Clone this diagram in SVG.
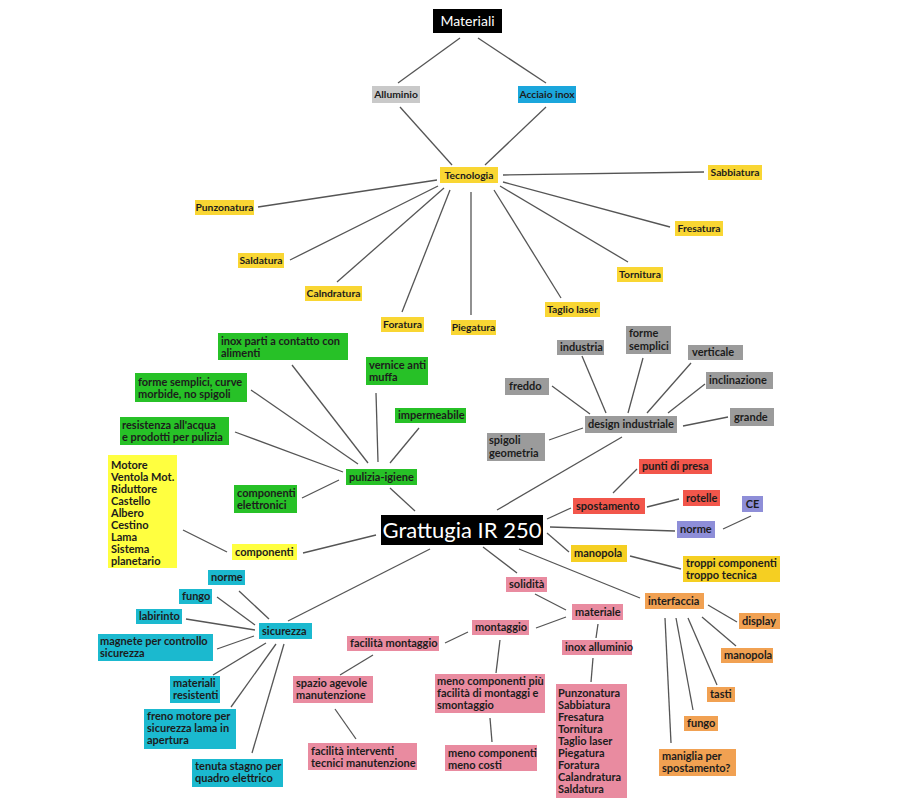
<svg xmlns="http://www.w3.org/2000/svg" width="900" height="810" viewBox="0 0 900 810">
<style>
text{font-family:"Lato","Liberation Sans",sans-serif;font-size:10.3px;font-weight:700;fill:#1c1c1c}
.m{font-size:11px}
.c{text-anchor:middle}
.blk{fill:#000}
.wt{fill:#fff;font-weight:400}
.gl{fill:#c9c9c9}
.bl{fill:#1ba6dc}
.ty{fill:#f9d633}
.gr{fill:#27c127}
.gy{fill:#9b9b9b}
.yy{fill:#ffff40}
.gd{fill:#f5cf22}
.rd{fill:#f2564b}
.pu{fill:#8e8ed8}
.cy{fill:#1bb9cf}
.pk{fill:#e98ba0}
.or{fill:#f1a152}
#connectors line{stroke:#555;stroke-width:1.3}
</style>
<rect width="900" height="810" fill="#fff"/>
<g id="connectors">
<line x1="460" y1="38" x2="398" y2="83"/>
<line x1="478" y1="38" x2="546" y2="83"/>
<line x1="400" y1="107" x2="452" y2="165"/>
<line x1="546" y1="107" x2="485" y2="165"/>
<line x1="503" y1="175" x2="704" y2="172"/>
<line x1="437" y1="180" x2="258" y2="207"/>
<line x1="503" y1="182" x2="670" y2="227"/>
<line x1="438" y1="186" x2="290" y2="260"/>
<line x1="500" y1="186" x2="628" y2="262"/>
<line x1="444" y1="188" x2="337" y2="282"/>
<line x1="494" y1="190" x2="561" y2="298"/>
<line x1="450" y1="190" x2="402" y2="312"/>
<line x1="471" y1="192" x2="471" y2="315"/>
<line x1="292" y1="365" x2="368" y2="463"/>
<line x1="251" y1="390" x2="358" y2="464"/>
<line x1="235" y1="432" x2="343" y2="472"/>
<line x1="376" y1="393" x2="378" y2="462"/>
<line x1="419" y1="428" x2="390" y2="463"/>
<line x1="302" y1="498" x2="339" y2="480"/>
<line x1="390" y1="488" x2="415" y2="511"/>
<line x1="552" y1="386" x2="590" y2="414"/>
<line x1="582" y1="356" x2="606" y2="413"/>
<line x1="643" y1="358" x2="628" y2="413"/>
<line x1="691" y1="363" x2="647" y2="413"/>
<line x1="705" y1="384" x2="668" y2="413"/>
<line x1="728" y1="417" x2="683" y2="426"/>
<line x1="549" y1="440" x2="583" y2="428"/>
<line x1="622" y1="437" x2="497" y2="510"/>
<line x1="547" y1="519" x2="571" y2="508"/>
<line x1="613" y1="493" x2="637" y2="469"/>
<line x1="647" y1="507" x2="679" y2="499"/>
<line x1="550" y1="527" x2="675" y2="531"/>
<line x1="723" y1="529" x2="751" y2="516"/>
<line x1="547" y1="533" x2="569" y2="552"/>
<line x1="630" y1="556" x2="681" y2="569"/>
<line x1="483" y1="547" x2="517" y2="573"/>
<line x1="519" y1="549" x2="640" y2="598"/>
<line x1="183" y1="530" x2="227" y2="552"/>
<line x1="303" y1="553" x2="376" y2="535"/>
<line x1="430" y1="549" x2="288" y2="621"/>
<line x1="239" y1="591" x2="269" y2="619"/>
<line x1="217" y1="597" x2="255" y2="625"/>
<line x1="186" y1="619" x2="255" y2="630"/>
<line x1="217" y1="649" x2="254" y2="636"/>
<line x1="213" y1="675" x2="266" y2="643"/>
<line x1="231" y1="707" x2="276" y2="644"/>
<line x1="252" y1="753" x2="284" y2="644"/>
<line x1="535" y1="594" x2="566" y2="610"/>
<line x1="566" y1="617" x2="536" y2="628"/>
<line x1="468" y1="632" x2="445" y2="643"/>
<line x1="598" y1="624" x2="596" y2="638"/>
<line x1="593" y1="658" x2="591" y2="682"/>
<line x1="500" y1="640" x2="496" y2="673"/>
<line x1="373" y1="655" x2="340" y2="675"/>
<line x1="335" y1="709" x2="356" y2="739"/>
<line x1="490" y1="718" x2="492" y2="742"/>
<line x1="708" y1="605" x2="737" y2="622"/>
<line x1="702" y1="617" x2="736" y2="646"/>
<line x1="688" y1="618" x2="717" y2="685"/>
<line x1="676" y1="618" x2="693" y2="710"/>
<line x1="665" y1="618" x2="671" y2="743"/>
</g>
<g id="n-materiali"><rect class="blk" x="433" y="9" width="69" height="24"/><text class="c wt" x="467.5" y="26" style="font-size:14px">Materiali</text></g>
<g id="n-alluminio"><rect class="gl" x="372" y="86" width="48" height="17"/><text class="c" x="396" y="98">Alluminio</text></g>
<g id="n-acciaio"><rect class="bl" x="518" y="86" width="58" height="17"/><text class="c" x="547" y="98">Acciaio inox</text></g>
<g id="n-tecnologia"><rect class="ty" x="440" y="167" width="58" height="16"/><text class="c" x="469" y="179">Tecnologia</text></g>
<g id="n-sabbiatura"><rect class="ty" x="708" y="165" width="54" height="15"/><text class="c" x="735" y="176">Sabbiatura</text></g>
<g id="n-punzonatura"><rect class="ty" x="195" y="200" width="59" height="15"/><text class="c" x="224.5" y="211">Punzonatura</text></g>
<g id="n-fresatura"><rect class="ty" x="675" y="221" width="48" height="15"/><text class="c" x="699" y="232">Fresatura</text></g>
<g id="n-saldatura"><rect class="ty" x="238" y="253" width="46" height="15"/><text class="c" x="261" y="264">Saldatura</text></g>
<g id="n-tornitura"><rect class="ty" x="617" y="267" width="46" height="15"/><text class="c" x="640" y="278">Tornitura</text></g>
<g id="n-calndratura"><rect class="ty" x="305" y="286" width="57" height="15"/><text class="c" x="333.5" y="297">Calndratura</text></g>
<g id="n-taglio"><rect class="ty" x="545" y="302" width="55" height="15"/><text class="c" x="572.5" y="313">Taglio laser</text></g>
<g id="n-foratura"><rect class="ty" x="381" y="317" width="43" height="15"/><text class="c" x="402.5" y="328">Foratura</text></g>
<g id="n-piegatura"><rect class="ty" x="451" y="320" width="45" height="15"/><text class="c" x="473.5" y="331">Piegatura</text></g>
<g id="n-inox-parti"><rect class="gr" x="218" y="333" width="130" height="27"/><text class="m" x="221" y="345">inox parti a contatto con</text><text class="m" x="221" y="357">alimenti</text></g>
<g id="n-vernice"><rect class="gr" x="366" y="357" width="62" height="28"/><text class="m" x="369" y="369">vernice anti</text><text class="m" x="369" y="381">muffa</text></g>
<g id="n-forme-curve"><rect class="gr" x="135" y="373" width="112" height="29"/><text class="m" x="138" y="386">forme semplici, curve</text><text class="m" x="138" y="398">morbide, no spigoli</text></g>
<g id="n-impermeabile"><rect class="gr" x="395" y="408" width="71" height="15"/><text class="m" x="398" y="419">impermeabile</text></g>
<g id="n-resistenza"><rect class="gr" x="120" y="417" width="109" height="28"/><text class="m" x="122" y="429">resistenza all'acqua</text><text class="m" x="122" y="441">e prodotti per pulizia</text></g>
<g id="n-pulizia"><rect class="gr" x="346" y="469" width="71" height="16"/><text class="m" x="349" y="481">pulizia-igiene</text></g>
<g id="n-comp-elettr"><rect class="gr" x="234" y="485" width="63" height="28"/><text class="m" x="237" y="497">componenti</text><text class="m" x="237" y="509">elettronici</text></g>
<g id="n-industria"><rect class="gy" x="557" y="340" width="47" height="15"/><text class="m" x="560" y="351">industria</text></g>
<g id="n-forme-semplici"><rect class="gy" x="626" y="326" width="45" height="28"/><text class="m" x="629" y="337">forme</text><text class="m" x="629" y="350">semplici</text></g>
<g id="n-verticale"><rect class="gy" x="688" y="345" width="55" height="15"/><text class="m" x="692" y="356">verticale</text></g>
<g id="n-inclinazione"><rect class="gy" x="706" y="372" width="67" height="17"/><text class="m" x="709" y="384">inclinazione</text></g>
<g id="n-freddo"><rect class="gy" x="505" y="378" width="44" height="17"/><text class="m" x="509" y="390">freddo</text></g>
<g id="n-design"><rect class="gy" x="585" y="416" width="92" height="17"/><text class="m" x="588" y="428">design industriale</text></g>
<g id="n-grande"><rect class="gy" x="730" y="408" width="44" height="18"/><text class="m" x="734" y="421">grande</text></g>
<g id="n-spigoli"><rect class="gy" x="487" y="433" width="58" height="28"/><text class="m" x="489" y="444">spigoli</text><text class="m" x="489" y="457">geometria</text></g>
<g id="n-grattugia"><rect class="blk" x="381" y="515" width="162" height="30"/><text class="c wt" x="462" y="538" style="font-size:22px">Grattugia IR 250</text></g>
<g id="n-punti"><rect class="rd" x="639" y="459" width="73" height="15"/><text class="m" x="642" y="470">punti di presa</text></g>
<g id="n-spostamento"><rect class="rd" x="573" y="498" width="72" height="16"/><text class="m" x="576" y="510">spostamento</text></g>
<g id="n-rotelle"><rect class="rd" x="683" y="490" width="37" height="16"/><text class="m" x="686" y="502">rotelle</text></g>
<g id="n-ce"><rect class="pu" x="742" y="496" width="21" height="16"/><text class="m c" x="752.5" y="508">CE</text></g>
<g id="n-norme-p"><rect class="pu" x="677" y="521" width="38" height="17"/><text class="m" x="680" y="533">norme</text></g>
<g id="n-manopola-y"><rect class="gd" x="571" y="545" width="56" height="17"/><text class="m" x="574" y="557">manopola</text></g>
<g id="n-troppi"><rect class="gd" x="683" y="556" width="97" height="26"/><text class="m" x="686" y="567">troppi componenti</text><text class="m" x="686" y="579">troppo tecnica</text></g>
<g id="n-lista-comp"><rect class="yy" x="108" y="455" width="69" height="113"/><text class="m" x="111" y="469">Motore</text><text class="m" x="111" y="481">Ventola Mot.</text><text class="m" x="111" y="493">Riduttore</text><text class="m" x="111" y="505">Castello</text><text class="m" x="111" y="517">Albero</text><text class="m" x="111" y="529">Cestino</text><text class="m" x="111" y="541">Lama</text><text class="m" x="111" y="553">Sistema</text><text class="m" x="111" y="565">planetario</text></g>
<g id="n-componenti"><rect class="yy" x="232" y="544" width="65" height="16"/><text class="m" x="235" y="556">componenti</text></g>
<g id="n-norme-c"><rect class="cy" x="208" y="570" width="37" height="15"/><text class="m" x="211" y="581">norme</text></g>
<g id="n-fungo-c"><rect class="cy" x="179" y="589" width="33" height="15"/><text class="m" x="182" y="600">fungo</text></g>
<g id="n-labirinto"><rect class="cy" x="136" y="609" width="46" height="15"/><text class="m" x="139" y="620">labirinto</text></g>
<g id="n-sicurezza"><rect class="cy" x="259" y="623" width="53" height="16"/><text class="m" x="262" y="635">sicurezza</text></g>
<g id="n-magnete"><rect class="cy" x="98" y="634" width="115" height="27"/><text class="m" x="100" y="645">magnete per controllo</text><text class="m" x="100" y="657">sicurezza</text></g>
<g id="n-materiali-res"><rect class="cy" x="170" y="676" width="50" height="27"/><text class="m" x="173" y="687">materiali</text><text class="m" x="173" y="699">resistenti</text></g>
<g id="n-freno"><rect class="cy" x="144" y="709" width="92" height="40"/><text class="m" x="147" y="720">freno motore per</text><text class="m" x="147" y="732">sicurezza lama in</text><text class="m" x="147" y="744">apertura</text></g>
<g id="n-tenuta"><rect class="cy" x="192" y="759" width="91" height="28"/><text class="m" x="195" y="770">tenuta stagno per</text><text class="m" x="195" y="782">quadro elettrico</text></g>
<g id="n-solidita"><rect class="pk" x="506" y="577" width="41" height="15"/><text class="m" x="509" y="588">solidità</text></g>
<g id="n-materiale"><rect class="pk" x="572" y="604" width="51" height="16"/><text class="m" x="575" y="616">materiale</text></g>
<g id="n-montaggio"><rect class="pk" x="472" y="620" width="57" height="15"/><text class="m" x="475" y="631">montaggio</text></g>
<g id="n-facilita-mont"><rect class="pk" x="347" y="636" width="92" height="15"/><text class="m" x="350" y="647">facilità montaggio</text></g>
<g id="n-inox-all"><rect class="pk" x="562" y="640" width="70" height="15"/><text class="m" x="565" y="651">inox alluminio</text></g>
<g id="n-spazio"><rect class="pk" x="293" y="676" width="80" height="27"/><text class="m" x="296" y="687">spazio agevole</text><text class="m" x="296" y="699">manutenzione</text></g>
<g id="n-meno-piu"><rect class="pk" x="435" y="674" width="110" height="39"/><text class="m" x="437" y="685">meno componenti più</text><text class="m" x="437" y="697">facilità di montaggi e</text><text class="m" x="437" y="709">smontaggio</text></g>
<g id="n-lista-lav"><rect class="pk" x="556" y="684" width="71" height="114"/><text class="m" x="558" y="697">Punzonatura</text><text class="m" x="558" y="709">Sabbiatura</text><text class="m" x="558" y="721">Fresatura</text><text class="m" x="558" y="733">Tornitura</text><text class="m" x="558" y="745">Taglio laser</text><text class="m" x="558" y="757">Piegatura</text><text class="m" x="558" y="769">Foratura</text><text class="m" x="558" y="781">Calandratura</text><text class="m" x="558" y="793">Saldatura</text></g>
<g id="n-facilita-int"><rect class="pk" x="308" y="743" width="109" height="27"/><text class="m" x="311" y="755">facilità interventi</text><text class="m" x="311" y="767">tecnici manutenzione</text></g>
<g id="n-meno-costi"><rect class="pk" x="445" y="745" width="92" height="26"/><text class="m" x="448" y="757">meno componenti</text><text class="m" x="448" y="769">meno costi</text></g>
<g id="n-interfaccia"><rect class="or" x="645" y="593" width="59" height="16"/><text class="m" x="648" y="605">interfaccia</text></g>
<g id="n-display"><rect class="or" x="739" y="613" width="41" height="16"/><text class="m" x="742" y="625">display</text></g>
<g id="n-manopola-o"><rect class="or" x="721" y="648" width="52" height="15"/><text class="m" x="724" y="659">manopola</text></g>
<g id="n-tasti"><rect class="or" x="707" y="687" width="28" height="15"/><text class="m" x="710" y="698">tasti</text></g>
<g id="n-fungo-o"><rect class="or" x="684" y="716" width="34" height="15"/><text class="m" x="687" y="727">fungo</text></g>
<g id="n-maniglia"><rect class="or" x="659" y="749" width="77" height="27"/><text class="m" x="662" y="760">maniglia per</text><text class="m" x="662" y="772">spostamento?</text></g>
</svg>
